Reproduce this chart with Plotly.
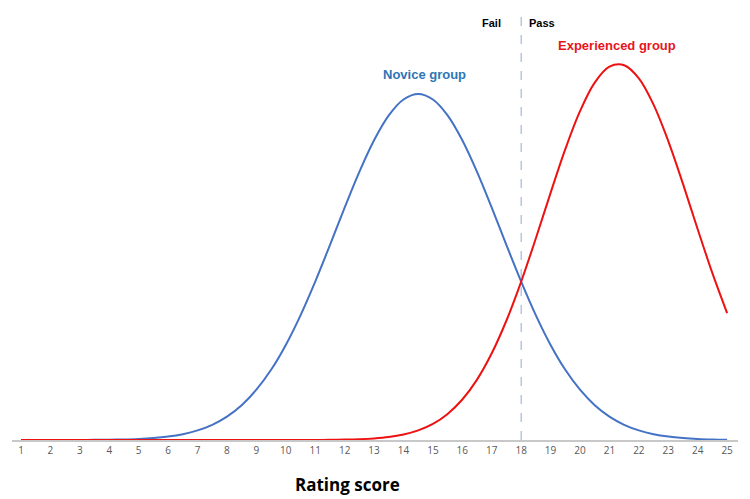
import plotly.graph_objects as go

# Rating scores (half-point steps)
scores = [1 + 0.5 * i for i in range(49)]

# Curve heights (arbitrary density units)
novice = [0.00, 0.01, 0.02, 0.04, 0.08, 0.15, 0.31, 0.59, 1.09, 1.98,
          3.45, 5.84, 9.6, 15.2, 23.4, 34.8, 50.3, 70.2, 95.1, 124.7,
          158.4, 194.9, 232.3, 268.1, 299.7, 324.6, 340.5, 346.0, 340.5, 324.6,
          299.7, 268.1, 232.3, 194.9, 158.4, 124.7, 95.1, 70.2, 50.3, 34.8,
          23.4, 15.2, 9.6, 5.84, 3.45, 1.98, 1.09, 0.59, 0.31]

experienced = [0.0, 0.0, 0.0, 0.0, 0.0, 0.0, 0.0, 0.0, 0.0, 0.0,
               0.0, 0.0, 0.0, 0.0, 0.0, 0.0, 0.0, 0.0, 0.01, 0.04,
               0.08, 0.18, 0.39, 0.80, 1.59, 3.0, 5.5, 9.6, 16.1, 26.1,
               40.5, 60.4, 86.7, 119.5, 158.4, 201.8, 247.1, 290.8, 328.8, 357.4,
               373.3, 374.8, 361.7, 335.4, 298.9, 256.1, 210.8, 166.8, 126.9]

tick_vals = list(range(1, 26))
tick_text = [str(v) for v in tick_vals]
pass_mark = 18

fig = go.Figure()
fig.add_trace(go.Scatter(x=scores, y=novice, mode="lines",
                         line=dict(color="#4472c4", width=2, shape="spline"),
                         hoverinfo="skip"))
fig.add_trace(go.Scatter(x=scores, y=experienced, mode="lines",
                         line=dict(color="#ee1111", width=2, shape="spline"),
                         hoverinfo="skip"))

fig.add_shape(type="line", xref="x", yref="y", x0=pass_mark, x1=pass_mark,
              y0=0, y1=431, line=dict(color="#8faadc", width=1, dash="dash"))

fig.add_annotation(x=16.98, y=417, xref="x", yref="y", text="<b>Fail</b>",
                   showarrow=False, font=dict(family="Liberation Sans", size=11, color="#000000"))
fig.add_annotation(x=18.7, y=417, xref="x", yref="y", text="<b>Pass</b>",
                   showarrow=False, font=dict(family="Liberation Sans", size=11, color="#000000"))
fig.add_annotation(x=14.7, y=366, xref="x", yref="y", text="<b>Novice group</b>",
                   showarrow=False, font=dict(family="Liberation Sans", size=13, color="#2e75b6"))
fig.add_annotation(x=21.26, y=395, xref="x", yref="y", text="<b>Experienced group</b>",
                   showarrow=False, font=dict(family="Liberation Sans", size=13, color="#e8141c"))
fig.add_annotation(x=12.1, y=-0.1, xref="x", yref="paper", yanchor="middle",
                   text="<b>Rating score</b>",
                   showarrow=False, font=dict(family="Open Sans", size=17, color="#000000"))

fig.update_layout(
    width=750, height=499,
    margin=dict(l=12, r=12, t=0, b=59),
    plot_bgcolor="white", paper_bgcolor="white",
    showlegend=False,
    xaxis=dict(range=[0.694, 25.37], tickmode="array", tickvals=tick_vals, ticktext=tick_text,
               showgrid=False, zeroline=False, showline=True, linecolor="#c8c8c8", linewidth=1.5,
               ticks="", tickfont=dict(family="Open Sans", size=10, color="#595959")),
    yaxis=dict(range=[0, 440], visible=False, showgrid=False, zeroline=False),
)

fig.write_html("out.html")
